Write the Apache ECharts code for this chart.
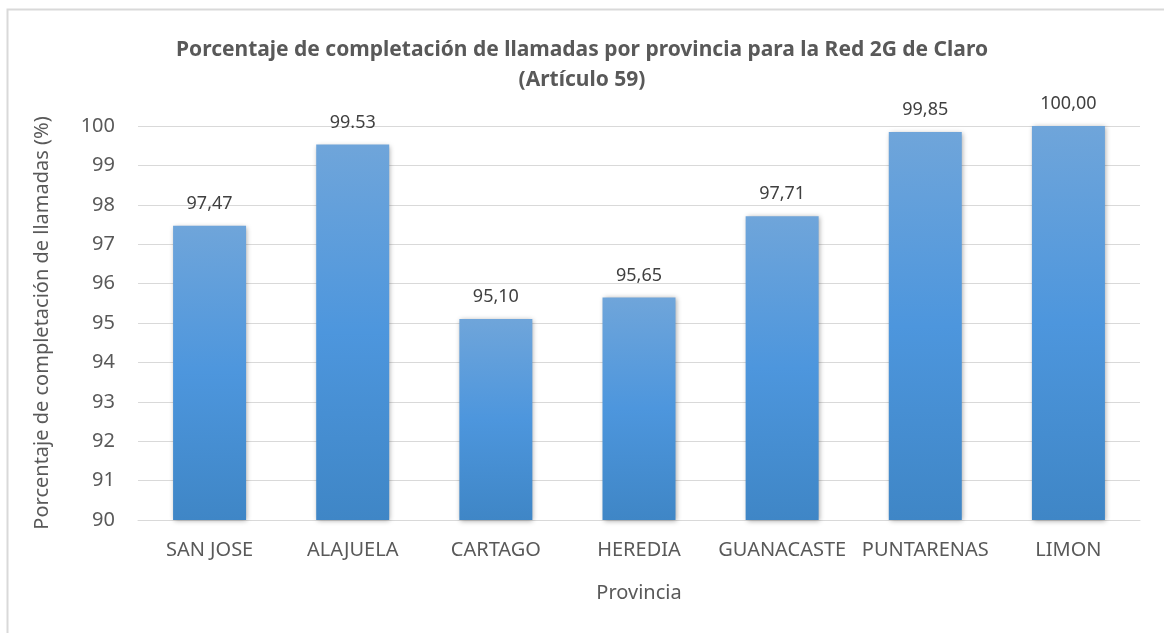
<!DOCTYPE html>
<html>
<head>
<meta charset="utf-8">
<style>
  html, body { margin: 0; padding: 0; background: #fff; }
  #chart { width: 1164px; height: 633px; }
</style>
<script src="https://cdn.jsdelivr.net/npm/echarts@6/dist/echarts.min.js"></script>
</head>
<body>
<div id="chart"></div>
<script>
// datos
const provincias = ['SAN JOSE', 'ALAJUELA', 'CARTAGO', 'HEREDIA', 'GUANACASTE', 'PUNTARENAS', 'LIMON'];
const valores = [97.47, 99.53, 95.10, 95.65, 97.71, 99.85, 100.00];
const etiquetas = ['97,47', '99.53', '95,10', '95,65', '97,71', '99,85', '100,00'];

const chart = echarts.init(document.getElementById('chart'));
const fuente = 'Noto Sans';
const gris = '#595959';

chart.setOption({
    animation: false,
    textStyle: { fontFamily: fuente, color: gris },
    title: {
        text: 'Porcentaje de completación de llamadas por provincia para la Red 2G de Claro\n(Artículo 59)',
        left: 'center',
        top: 30,
        textStyle: {
            fontFamily: fuente,
            fontSize: 21,
            fontWeight: 'bold',
            color: gris,
            lineHeight: 30
        }
    },
    graphic: [
        {
            type: 'rect',
            shape: { x: 7.5, y: 9.5, width: 1200, height: 700 },
            style: { fill: 'none', stroke: '#d9d9d9', lineWidth: 2 },
            silent: true
        }
    ],
    grid: {
        left: 138,
        right: 24,
        top: 126,
        bottom: 113
    },
    xAxis: {
        type: 'category',
        data: provincias,
        name: 'Provincia',
        nameLocation: 'middle',
        nameGap: 63,
        nameTextStyle: { fontSize: 20, color: gris },
        axisLine: { lineStyle: { color: '#d9d9d9', width: 1 } },
        axisTick: { show: false },
        axisLabel: { fontSize: 20, color: gris, margin: 20, interval: 0 }
    },
    yAxis: {
        type: 'value',
        min: 90,
        max: 100,
        interval: 1,
        name: 'Porcentaje de completación de llamadas (%)',
        nameLocation: 'middle',
        nameGap: 86,
        nameTextStyle: { fontSize: 20, color: gris },
        axisLine: { show: false },
        axisTick: { show: false },
        axisLabel: { fontSize: 20, color: gris, margin: 23 },
        splitLine: { lineStyle: { color: '#d9d9d9', width: 1 } }
    },
    series: [
        {
            type: 'bar',
            data: valores,
            barWidth: 73,
            itemStyle: {
                color: {
                    type: 'linear', x: 0, y: 0, x2: 0, y2: 1,
                    colorStops: [
                        { offset: 0, color: '#6fa5da' },
                        { offset: 0.5, color: '#4d96dd' },
                        { offset: 1, color: '#3f86c6' }
                    ]
                },
                shadowColor: 'rgba(0,0,0,0.35)',
                shadowBlur: 5,
                shadowOffsetX: 1,
                shadowOffsetY: 1
            },
            label: {
                show: true,
                position: 'top',
                distance: 13,
                fontSize: 18,
                color: '#404040',
                formatter: p => etiquetas[p.dataIndex]
            }
        }
    ]
});

window.addEventListener('resize', function () {
    chart.resize();
});
</script>
</body>
</html>
